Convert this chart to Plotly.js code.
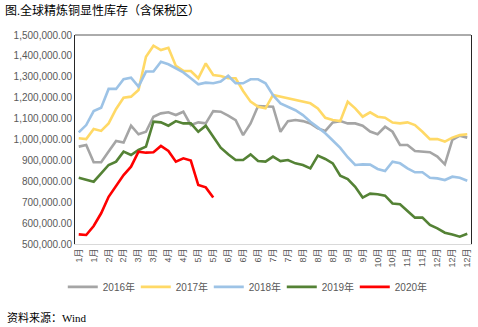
<!DOCTYPE html>
<html>
<head>
<meta charset="utf-8">
<script src="https://cdn.plot.ly/plotly-3.0.1.min.js"></script>
<style>html,body{margin:0;padding:0;background:#fff;}#chart{width:478px;height:327px;}</style>
</head>
<body>
<div id="chart"></div>
<script>
const tickLabels = ["1月","1月","2月","2月","3月","3月","4月","4月","5月","5月","6月","6月","6月","7月","7月","8月","8月","8月","9月","9月","10月","10月","11月","11月","12月","12月","12月"];

const s2016 = [966000,974000,891000,891000,942000,993000,986000,1066000,1025000,1037000,1109000,1125000,1130000,1117000,1133000,1069000,1082000,1077000,1136000,1133000,1114000,1093000,1021000,1077000,1160000,1160000,1157000,1037000,1088000,1093000,1088000,1077000,1053000,1041000,1082000,1088000,1077000,1077000,1066000,1038000,1025000,1061000,1037000,974000,974000,945000,942000,939000,918000,881000,998000,1018000,1009000];
const s2017 = [1006000,1002000,1050000,1041000,1077000,1146000,1200000,1205000,1237000,1396000,1449000,1428000,1439000,1352000,1328000,1328000,1293000,1364000,1309000,1304000,1293000,1293000,1232000,1181000,1157000,1149000,1213000,1205000,1200000,1189000,1184000,1173000,1149000,1104000,1093000,1088000,1181000,1149000,1109000,1130000,1109000,1104000,1081000,1077000,1082000,1069000,1037000,1002000,1002000,990000,1009000,1021000,1025000];
const s2018 = [1034000,1069000,1136000,1152000,1242000,1242000,1289000,1296000,1253000,1325000,1325000,1372000,1360000,1339000,1321000,1293000,1264000,1272000,1269000,1277000,1305000,1269000,1269000,1288000,1288000,1269000,1212000,1173000,1155000,1140000,1117000,1085000,1058000,1030000,995000,960000,915000,878000,881000,880000,859000,849000,894000,886000,862000,843000,843000,817000,814000,806000,822000,817000,803000];
const s2019 = [817000,806000,798000,838000,878000,894000,942000,926000,950000,966000,1085000,1082000,1066000,1088000,1077000,1077000,1037000,1066000,1014000,961000,929000,902000,902000,929000,897000,894000,918000,897000,902000,886000,878000,862000,923000,907000,886000,827000,811000,774000,722000,741000,738000,731000,694000,690000,658000,626000,626000,591000,575000,554000,546000,535000,549000];
const s2020 = [546000,543000,586000,647000,726000,777000,830000,870000,942000,937000,939000,969000,945000,894000,910000,899000,782000,771000,722000];

const seriesNames = ["2016年","2017年","2018年","2019年","2020年"];
const seriesData = [s2016, s2017, s2018, s2019, s2020];
const colors = ["#A5A5A5","#FFD966","#9DC3E6","#548235","#FF0000"];

const traces = seriesData.map((arr, k) => ({
  x: arr.map((_, i) => i),
  y: arr,
  type: "scatter",
  mode: "lines",
  name: seriesNames[k],
  line: {color: colors[k], width: 2.6},
  hoverinfo: "skip"
}));

const tickvals = tickLabels.map((_, i) => i * 2);

const layout = {
  width: 478, height: 327,
  margin: {l: 75, r: 7, t: 35, b: 83},
  paper_bgcolor: "#fff", plot_bgcolor: "#fff",
  font: {family: "Liberation Sans, Noto Sans CJK SC, sans-serif", color: "#595959", size: 10},
  title: {
    text: "图.全球精炼铜显性库存（含保税区）",
    x: 5/478, xref: "container", xanchor: "left",
    y: 1 - 11/327, yref: "container", yanchor: "middle",
    font: {family: "Liberation Serif, Noto Sans CJK SC, serif", size: 12, color: "#000"}
  },
  xaxis: {
    range: [-0.5, 52.5],
    tickvals: tickvals, ticktext: tickLabels,
    tickangle: -90,
    showgrid: false, zeroline: false,
    showline: true, linecolor: "#D9D9D9", linewidth: 1,
    ticks: "", tickfont: {size: 9, color: "#595959"}
  },
  yaxis: {
    range: [500000, 1500000],
    dtick: 100000, tickformat: ",.2f",
    showgrid: false, zeroline: false,
    showline: true, linecolor: "#262626", linewidth: 1, mirror: true,
    ticks: "", tickfont: {size: 10, color: "#595959"}
  },
  shapes: [{type: "line", xref: "paper", yref: "paper", x0: 0, x1: 1, y0: 1, y1: 1, line: {color: "#595959", width: 1}}],
  showlegend: true,
  legend: {
    orientation: "h", x: 0.43, xanchor: "center", y: -0.205, yanchor: "middle",
    font: {size: 10, color: "#595959"},
    entrywidth: 28, entrywidthmode: "pixels",
    itemwidth: 30,
    bgcolor: "rgba(0,0,0,0)"
  },
  annotations: [{
    text: "资料来源：Wind", xref: "paper", yref: "paper",
    x: -70/396, y: -73/209, xanchor: "left", yanchor: "middle", showarrow: false,
    font: {family: "Liberation Serif, Noto Sans CJK SC, serif", size: 11, color: "#000"}
  }]
};

Plotly.newPlot("chart", traces, layout, {staticPlot: true, displayModeBar: false});
</script>
</body>
</html>
